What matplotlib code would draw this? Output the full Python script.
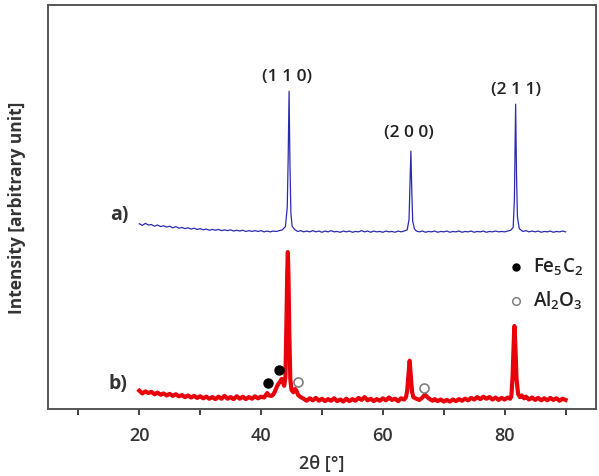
"""
XRD patterns: a) reference sample, b) sample with Fe5C2 / Al2O3 phases.
"""

import matplotlib
matplotlib.use("Agg")
import matplotlib.pyplot as plt

plt.rcParams['font.family'] = ['Open Sans', 'DejaVu Sans']
plt.rcParams['mathtext.default'] = 'regular'

# trace a)
blue_2theta = [
    20.0, 20.5, 21.0, 21.5, 22.0, 22.5, 23.0, 23.5, 24.0, 24.5, 25.0, 25.5,
    26.0, 26.5, 27.0, 27.5, 28.0, 28.5, 29.0, 29.5, 30.0, 30.5, 31.0, 31.5,
    32.0, 32.5, 33.0, 33.5, 34.0, 34.5, 35.0, 35.5, 36.0, 36.5, 37.0, 37.5,
    38.0, 38.5, 39.0, 39.5, 40.0, 40.5, 41.0, 41.5, 42.0, 42.5, 43.0, 43.5,
    44.0, 44.3, 44.45, 44.6, 44.75, 44.9, 45.1, 45.5, 46.0,
    46.5, 47.0, 47.5, 48.0, 48.5, 49.0, 49.5, 50.0, 50.5, 51.0, 51.5, 52.0,
    52.5, 53.0, 53.5, 54.0, 54.5, 55.0, 55.5, 56.0, 56.5, 57.0, 57.5, 58.0,
    58.5, 59.0, 59.5, 60.0, 60.5, 61.0, 61.5, 62.0, 62.5, 63.0, 63.5,
    64.0, 64.3, 64.45, 64.6, 64.75, 64.9, 65.2,
    65.5, 66.0, 66.5, 67.0, 67.5, 68.0, 68.5, 69.0, 69.5, 70.0, 70.5, 71.0,
    71.5, 72.0, 72.5, 73.0, 73.5, 74.0, 74.5, 75.0, 75.5, 76.0, 76.5, 77.0,
    77.5, 78.0, 78.5, 79.0, 79.5, 80.0, 80.5, 81.0,
    81.4, 81.6, 81.8, 81.95, 82.1, 82.4, 82.8,
    83.0, 83.5, 84.0, 84.5, 85.0, 85.5, 86.0, 86.5, 87.0, 87.5, 88.0, 88.5,
    89.0, 89.5, 90.0,
]
blue_int = [
    45.9, 45.5, 46.0, 45.6, 45.7, 45.3, 45.6, 45.2, 45.4, 45.1, 45.3, 44.9,
    45.2, 44.8, 45.0, 44.7, 44.9, 44.6, 44.8, 44.5, 44.7, 44.4, 44.6, 44.3,
    44.5, 44.3, 44.5, 44.2, 44.4, 44.2, 44.4, 44.1, 44.3, 44.1, 44.3, 44.0,
    44.2, 44.0, 44.2, 44.0, 44.2, 43.9, 44.1, 43.9, 44.1, 44.0, 44.2, 44.4,
    45.2, 50.0, 62.0, 78.7, 60.0, 48.5, 45.3, 44.5, 44.0,
    44.2, 43.9, 44.1, 43.9, 44.2, 43.9, 44.1, 43.8, 44.1, 43.9, 44.2, 43.9,
    44.0, 43.8, 44.1, 43.9, 44.1, 43.8, 44.0, 43.9, 44.2, 43.9, 44.1, 43.8,
    44.1, 43.9, 44.0, 43.8, 44.1, 43.9, 44.0, 43.8, 44.1, 43.9, 44.1,
    44.4, 47.0, 55.0, 63.9, 54.0, 46.5, 44.6,
    44.1, 43.9, 44.1, 43.8, 44.0, 43.9, 44.1, 43.8, 44.0, 43.9, 44.1, 43.8,
    44.0, 43.9, 44.1, 43.8, 44.0, 43.9, 44.1, 43.8, 44.0, 43.9, 44.1, 43.8,
    44.0, 43.9, 44.1, 43.9, 44.0, 43.9, 44.1, 44.3,
    45.0, 52.0, 75.5, 58.0, 47.5, 44.7, 44.2,
    44.0, 44.2, 43.9, 44.1, 43.9, 44.1, 43.8, 44.0, 43.9, 44.1, 43.8, 44.0,
    43.9, 44.1, 43.9,
]

# trace b)
red_2theta = [
    20.0, 20.5, 21.0, 21.5, 22.0, 22.5, 23.0, 23.5, 24.0, 24.5, 25.0, 25.5,
    26.0, 26.5, 27.0, 27.5, 28.0, 28.5, 29.0, 29.5, 30.0, 30.5, 31.0, 31.5,
    32.0, 32.5, 33.0, 33.5, 34.0, 34.5, 35.0, 35.5, 36.0, 36.5, 37.0, 37.5,
    38.0, 38.5, 39.0, 39.5, 40.0, 40.5, 41.0, 41.3, 41.7, 42.0, 42.3, 42.6,
    42.9, 43.2, 43.4, 43.6, 43.8, 44.0, 44.15, 44.3, 44.4, 44.5, 44.65, 44.8,
    45.0, 45.3, 45.6, 45.8, 46.1, 46.5,
    47.0, 47.5, 48.0, 48.5, 49.0, 49.5, 50.0, 50.5, 51.0, 51.5, 52.0, 52.5,
    53.0, 53.5, 54.0, 54.5, 55.0, 55.5, 56.0, 56.5, 57.0, 57.5, 58.0, 58.5,
    59.0, 59.5, 60.0, 60.5, 61.0, 61.5, 62.0, 62.5, 63.0, 63.5,
    63.8, 64.0, 64.2, 64.4, 64.6, 64.8, 65.0,
    65.5, 66.0, 66.5, 66.9, 67.3, 67.8, 68.2, 68.5, 69.0, 69.5, 70.0, 70.5,
    71.0, 71.5, 72.0, 72.5, 73.0, 73.5, 74.0, 74.5, 75.0, 75.5, 76.0, 76.5,
    77.0, 77.5, 78.0, 78.5, 79.0, 79.5, 80.0, 80.5, 80.9,
    81.1, 81.3, 81.5, 81.6, 81.75, 81.95, 82.2,
    82.5, 82.8, 83.2, 83.5, 84.0, 84.5, 85.0, 85.5, 86.0, 86.5, 87.0, 87.5,
    88.0, 88.5, 89.0, 89.5, 90.0,
]
red_int = [
    4.6, 3.9, 4.4, 4.0, 4.3, 3.7, 4.1, 3.6, 3.9, 3.4, 3.8, 3.3,
    3.7, 3.2, 3.5, 3.0, 3.4, 2.9, 3.3, 2.8, 3.2, 2.7, 3.1, 2.6,
    3.0, 2.5, 3.1, 2.6, 3.3, 2.6, 3.0, 2.5, 3.2, 2.6, 3.1, 2.5,
    3.0, 2.6, 3.2, 2.7, 3.1, 2.9, 4.0, 3.4, 3.3, 3.6, 4.5, 5.6,
    6.4, 7.0, 7.5, 6.6, 5.8, 8.0, 20.0, 34.0, 38.9, 33.0, 18.0, 7.5,
    4.8, 4.2, 5.0, 4.6, 3.5, 3.0,
    2.6, 2.1, 2.7, 2.2, 2.8, 2.1, 2.6, 2.0, 2.5, 2.1, 2.7, 2.0,
    2.4, 1.9, 2.6, 2.0, 2.5, 2.1, 2.8, 2.3, 3.0, 2.2, 2.6, 2.0,
    2.5, 2.1, 2.7, 2.2, 2.9, 2.3, 2.6, 2.0, 2.7, 2.4,
    3.0, 4.6, 8.5, 12.0, 8.0, 4.2, 3.0,
    2.6, 2.3, 2.9, 3.6, 3.0, 2.4, 2.1, 2.5, 2.0, 2.4, 1.9, 2.3,
    1.9, 2.4, 2.0, 2.5, 2.1, 2.6, 2.2, 2.8, 2.4, 3.0, 2.5, 3.1,
    2.6, 3.0, 2.4, 2.9, 2.3, 2.8, 2.4, 2.9, 2.6,
    3.2, 8.0, 17.0, 20.6, 16.0, 7.5, 3.8,
    3.0, 3.4, 2.7, 3.1, 2.4, 2.9, 2.3, 2.8, 2.2, 2.7, 2.2, 2.8,
    2.3, 2.7, 2.1, 2.6, 2.3,
]

# phase markers on trace b)
fe5c2_2theta = [41.2, 42.95]
fe5c2_int = [6.4, 9.7]
al2o3_2theta = [46.0, 66.7]
al2o3_int = [6.8, 5.3]

# Miller index labels
hkl_labels = ["(1 1 0)", "(2 0 0)", "(2 1 1)"]
hkl_2theta = [44.2, 64.2, 81.8]
hkl_int = [82.4, 68.6, 79.2]


fig = plt.figure(figsize=(5.99, 4.77), dpi=100)
ax = fig.add_axes([0.080, 0.140, 0.915, 0.847])

ax.plot(blue_2theta, blue_int, color="#2b2bb0", linewidth=0.9)
ax.plot(red_2theta, red_int, color="#e8000b", linewidth=3.0)

ax.plot(fe5c2_2theta, fe5c2_int, "o", color="black", markersize=6.5)
ax.plot(al2o3_2theta, al2o3_int, "o", markerfacecolor="white",
        markeredgecolor="#808080", markeredgewidth=1.2, markersize=6.5)

for lab, x, y in zip(hkl_labels, hkl_2theta, hkl_int):
    ax.text(x, y, lab, ha="center", va="center", fontsize=12.5,
            fontweight="semibold", color="#222222")

ax.text(15.2, 48.3, "a)", ha="left", va="center", fontsize=14,
        fontweight="bold", color="#333333")
ax.text(14.9, 6.4, "b)", ha="left", va="center", fontsize=14,
        fontweight="bold", color="#333333")

# legend drawn by hand in the upper right of the lower half
ax.plot([81.9], [35.1], "o", color="black", markersize=5)
ax.plot([81.9], [26.7], "o", markerfacecolor="white",
        markeredgecolor="#808080", markeredgewidth=1.1, markersize=5.5)
ax.text(84.7, 35.4, "Fe$_5$C$_2$", ha="left", va="center", fontsize=13.5,
        fontweight="semibold", color="#222222")
ax.text(84.7, 27.0, "Al$_2$O$_3$", ha="left", va="center", fontsize=13.5,
        fontweight="semibold", color="#222222")

ax.set_xlim(5, 95)
ax.set_ylim(0, 100)
ax.set_xticks([20, 40, 60, 80])
ax.set_xticks([10, 30, 50, 70, 90], minor=True)
ax.set_yticks([])
ax.tick_params(axis="x", which="both", direction="out", length=4, width=1.3,
               color="#333333", pad=8)
ax.tick_params(axis="x", labelsize=13)
for lab in ax.get_xticklabels():
    lab.set_fontweight("semibold")
    lab.set_color("#333333")
for sp in ax.spines.values():
    sp.set_linewidth(1.4)
    sp.set_color("#555555")

ax.set_xlabel("2θ [°]", fontsize=13, fontweight="semibold", color="#333333",
              labelpad=7)
ax.set_ylabel("Intensity [arbitrary unit]", fontsize=12.5, fontweight="bold",
              color="#333333", labelpad=16)

fig.savefig("out.png", dpi=100)
plt.close(fig)
